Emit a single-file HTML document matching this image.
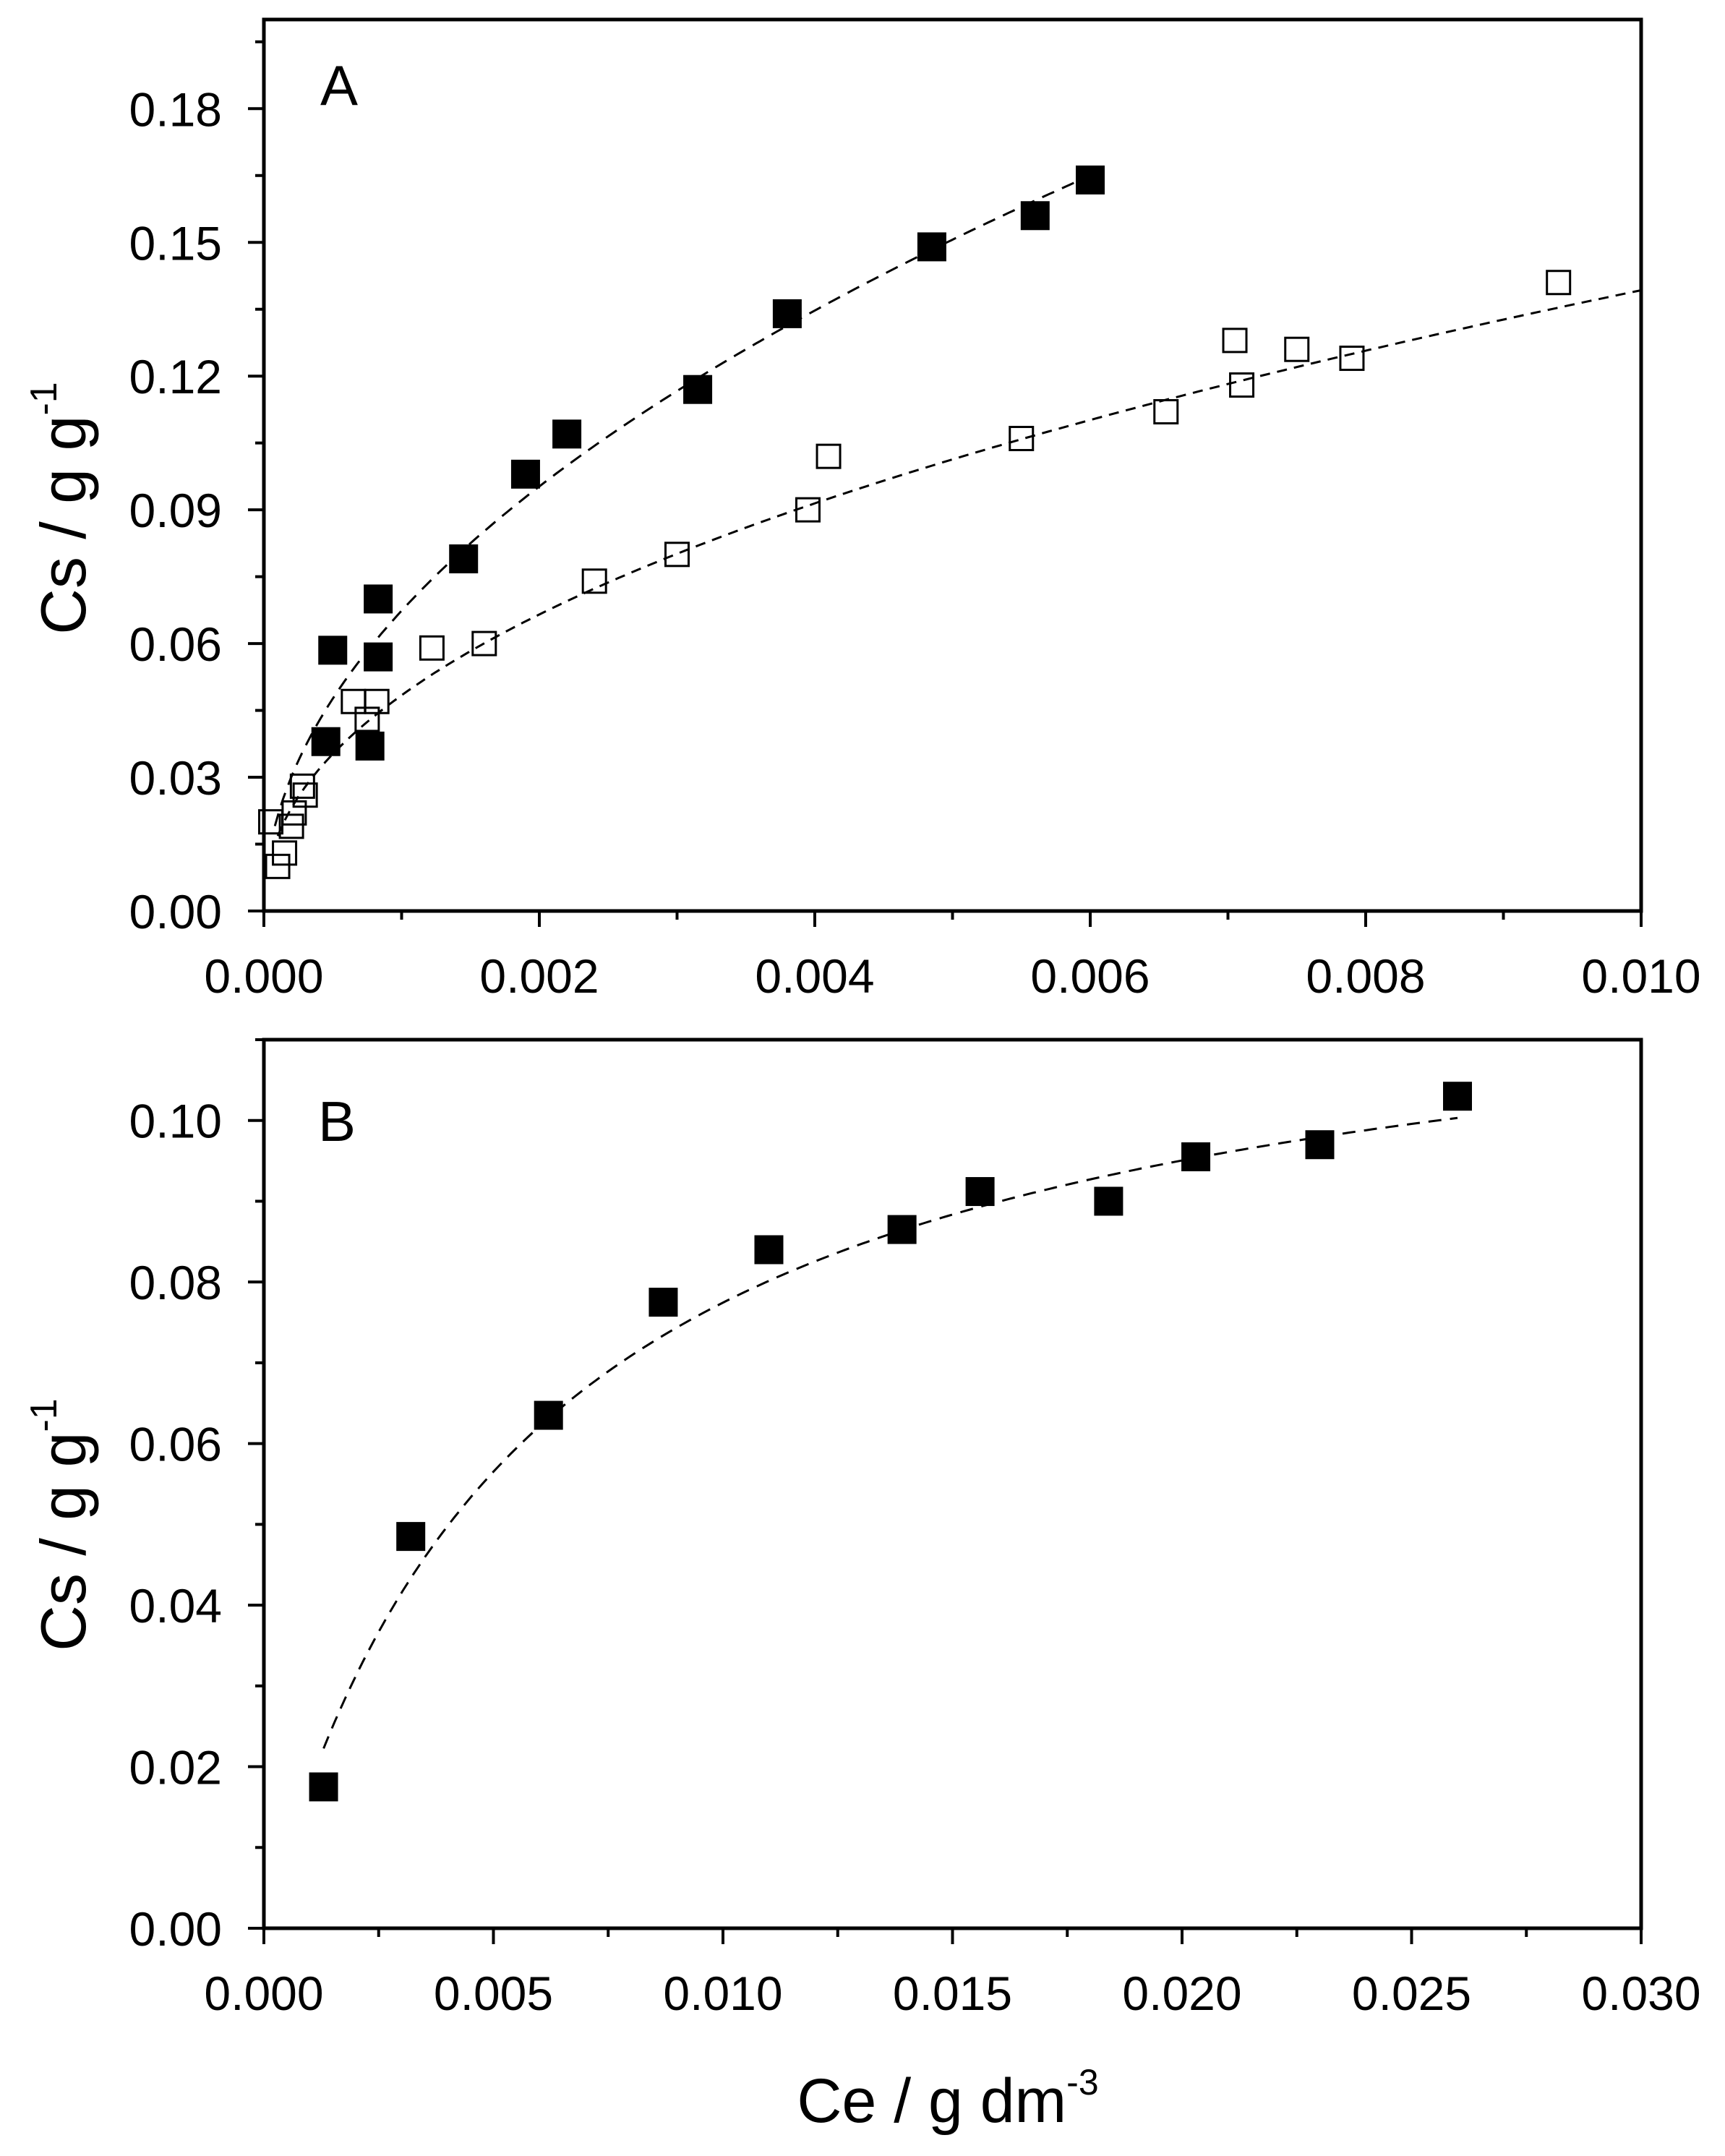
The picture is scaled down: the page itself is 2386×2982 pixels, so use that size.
<!DOCTYPE html>
<html><head><meta charset="utf-8"><style>
html,body{margin:0;padding:0;background:#fff;}
svg{display:block;}
text{font-family:"Liberation Sans",Arial,sans-serif;fill:#000;}
</style></head><body>
<svg id="s" width="2386" height="2982" viewBox="0 0 2386 2982" xmlns="http://www.w3.org/2000/svg"></svg>
<script>
const S=document.getElementById('s');let h='';
const L=365,R=2270;
function panel(top,bot,ymax,xmax,yMaj,yMin,xMaj,xMin,xdec,ydec){
 const X=v=>L+(R-L)*v/xmax, Y=v=>bot-(bot-top)*v/ymax;
 h+=`<rect x="${L}" y="${top}" width="${R-L}" height="${bot-top}" fill="none" stroke="#000" stroke-width="5"/>`;
 for(let v=0;v<=ymax+1e-9;v+=yMin){const maj=Math.abs(v/yMaj-Math.round(v/yMaj))<1e-6;const y=Y(v);
  h+=`<line x1="${L}" x2="${L-(maj?22:12)}" y1="${y}" y2="${y}" stroke="#000" stroke-width="4"/>`;
  if(maj)h+=`<text x="${L-58}" y="${y+24}" font-size="66" text-anchor="end">${v.toFixed(ydec)}</text>`;}
 for(let v=0;v<=xmax+1e-9;v+=xMin){const maj=Math.abs(v/xMaj-Math.round(v/xMaj))<1e-6;const x=X(v);
  h+=`<line x1="${x}" x2="${x}" y1="${bot}" y2="${bot+(maj?22:12)}" stroke="#000" stroke-width="4"/>`;
  if(maj)h+=`<text x="${x}" y="${bot+113}" font-size="66" text-anchor="middle">${v.toFixed(xdec)}</text>`;}
 return [X,Y];
}
function curve(X,Y,f,a,b,dash){let p=[];for(let i=0;i<=200;i++){const x=a+(b-a)*i/200;p.push(X(x).toFixed(1)+','+Y(f(x)).toFixed(1));}
 h+=`<polyline points="${p.join(' ')}" fill="none" stroke="#000" stroke-width="3" stroke-dasharray="${dash}"/>`;}
function sq(X,Y,pts,filled){for(const [a,b] of pts){const x=X(a),y=Y(b);
 if(filled)h+=`<rect x="${x-20}" y="${y-20}" width="40" height="40" fill="#000"/>`;
 else h+=`<rect x="${x-16}" y="${y-16}" width="32" height="32" fill="none" stroke="#000" stroke-width="3"/>`;}}
let [XA,YA]=panel(27,1260,0.20,0.010,0.03,0.015,0.002,0.001,3,2);
curve(XA,YA,x=>1.153*Math.pow(x,0.459),0.0001,0.010,"14,10");
curve(XA,YA,x=>2.13*Math.sqrt(x),0.00008,0.006,"18,12");
sq(XA,YA,[[0.00005,0.020],[0.0001,0.010],[0.00015,0.013],[0.0002,0.019],[0.00022,0.022],[0.00028,0.028],[0.0003,0.026],[0.00065,0.047],[0.00075,0.043],[0.00082,0.047],[0.00122,0.059],[0.0016,0.060],[0.0024,0.074],[0.003,0.080],[0.00395,0.090],[0.0041,0.102],[0.0055,0.106],[0.00655,0.112],[0.00705,0.128],[0.0071,0.118],[0.0075,0.126],[0.0079,0.124],[0.0094,0.141]],false);
sq(XA,YA,[[0.00045,0.038],[0.0005,0.0585],[0.00077,0.037],[0.00083,0.057],[0.00083,0.070],[0.00145,0.079],[0.0019,0.098],[0.0022,0.107],[0.00315,0.117],[0.0038,0.134],[0.00485,0.149],[0.0056,0.156],[0.006,0.164]],true);
h+=`<text x="443" y="145" font-size="78">A</text>`;
let [XB,YB]=panel(1438,2667,0.11,0.030,0.02,0.01,0.005,0.0025,3,2);
curve(XB,YB,x=>0.123*170*x/(1+170*x),0.0013,0.026,"18,12");
sq(XB,YB,[[0.0013,0.0175],[0.0032,0.0485],[0.0062,0.0635],[0.0087,0.0775],[0.011,0.084],[0.0139,0.0865],[0.0156,0.0912],[0.0184,0.090],[0.0203,0.0955],[0.023,0.097],[0.026,0.103]],true);
h+=`<text x="440" y="1578" font-size="78">B</text>`;
function ytitle(cy){h+=`<text transform="translate(118,${cy}) rotate(-90)" font-size="88" text-anchor="middle">Cs / g g<tspan font-size="52" dy="-40">-1</tspan></text>`;}
ytitle(703);ytitle(2109);
h+=`<text x="1311" y="2935" font-size="86" text-anchor="middle">Ce / g dm<tspan font-size="50" dy="-38">-3</tspan></text>`;
S.innerHTML=h;
</script>
</body></html>
